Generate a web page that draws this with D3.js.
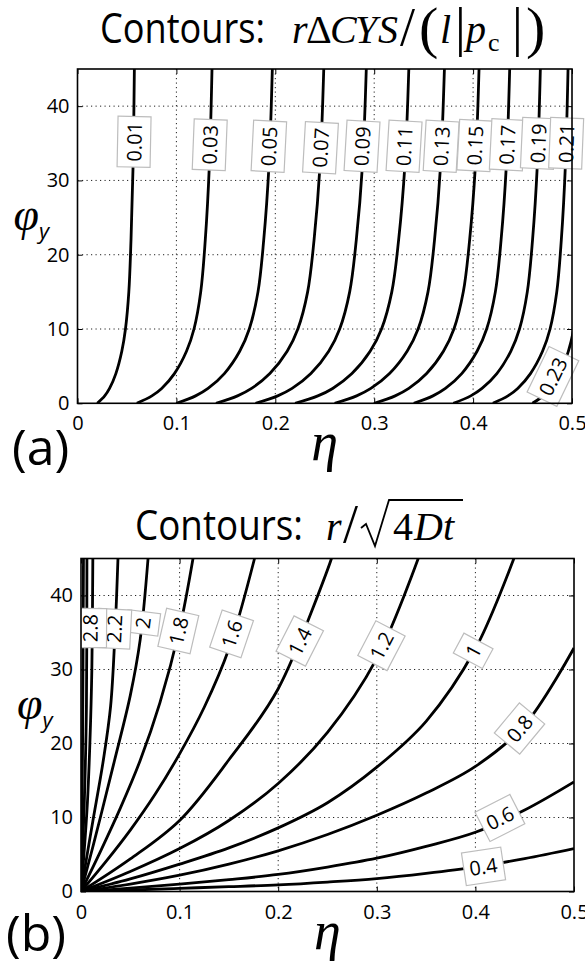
<!DOCTYPE html>
<html>
<head>
<meta charset="utf-8">
<script src="https://cdn.jsdelivr.net/npm/d3@7"></script>
<style>
  body { margin: 0; background: #fff; }
  svg { display: block; }
</style>
</head>
<body>
<svg id="fig" width="585" height="969"></svg>
<script>
// ---- shared axis ticks ----
const etaTicks = [0, 0.1, 0.2, 0.3, 0.4, 0.5];
const phiTicks = [0, 10, 20, 30, 40];

// ---- panel (a): contours of r*dCYS/(l|pc|) ----
const cysLevels = ["0.01", "0.03", "0.05", "0.07", "0.09", "0.11", "0.13", "0.15", "0.17", "0.19", "0.21", "0.23"];
const cysPhi = [0, 1, 2, 4, 7, 10, 15, 22, 32, 45];
const cysEta = [
  [0.020, 0.0275, 0.0324, 0.0388, 0.0448, 0.0485, 0.0519, 0.0541, 0.0562, 0.0575],
  [0.060, 0.0752, 0.0851, 0.0980, 0.1102, 0.1178, 0.1246, 0.1292, 0.1333, 0.1360],
  [0.100, 0.1194, 0.1320, 0.1485, 0.1640, 0.1737, 0.1825, 0.1883, 0.1936, 0.1970],
  [0.140, 0.1618, 0.1760, 0.1945, 0.2120, 0.2228, 0.2327, 0.2392, 0.2452, 0.2490],
  [0.180, 0.2024, 0.2170, 0.2360, 0.2540, 0.2651, 0.2752, 0.2819, 0.2881, 0.2920],
  [0.220, 0.2430, 0.2580, 0.2775, 0.2959, 0.3074, 0.3178, 0.3247, 0.3310, 0.3350],
  [0.260, 0.2822, 0.2966, 0.3155, 0.3333, 0.3444, 0.3544, 0.3610, 0.3671, 0.3710],
  [0.300, 0.3212, 0.3350, 0.3530, 0.3700, 0.3806, 0.3901, 0.3965, 0.4023, 0.4060],
  [0.340, 0.3594, 0.3720, 0.3885, 0.4040, 0.4137, 0.4225, 0.4283, 0.4336, 0.4370],
  [0.380, 0.3976, 0.4090, 0.4240, 0.4381, 0.4469, 0.4548, 0.4601, 0.4649, 0.4680],
  [0.420, 0.4352, 0.4451, 0.4580, 0.4702, 0.4778, 0.4846, 0.4892, 0.4933, 0.4960],
  [0.460, 0.4710, 0.4782, 0.4875, 0.4963, 0.5018, 0.5068, 0.5100, 0.5130, 0.5150]
];
// where each level's inline label sits: [eta, phi]
const cysLabelAt = [
  [0.0575, 35.2], [0.1340, 34.8], [0.1938, 34.6], [0.2460, 34.4],
  [0.2880, 34.6], [0.3305, 34.6], [0.3680, 34.6], [0.4020, 34.7],
  [0.4347, 34.8], [0.4660, 35.0], [0.4944, 35.0], [0.4810, 3.6]
];

// ---- panel (b): contours of r/sqrt(4Dt) ----
const fanLevels = ["0.4", "0.6", "0.8", "1", "1.2", "1.4", "1.6", "1.8", "2", "2.2", "2.4", "2.6", "2.8"];
const fanCurves = [
  [[0, 0], [0.05, 0.2], [0.1, 0.43], [0.15, 0.65], [0.2, 0.9], [0.25, 1.28], [0.3, 1.75], [0.35, 2.45], [0.4, 3.3], [0.45, 4.45], [0.5, 5.8]],
  [[0, 0], [0.05, 0.45], [0.1, 1.0], [0.15, 1.6], [0.2, 2.3], [0.25, 3.3], [0.3, 4.5], [0.35, 6.1], [0.4, 8.0], [0.45, 11.0], [0.5, 14.8]],
  [[0, 0], [0.05, 1.0], [0.1, 2.2], [0.15, 3.7], [0.2, 5.5], [0.25, 7.7], [0.3, 10.3], [0.35, 13.3], [0.4, 16.9], [0.45, 22.5], [0.5, 32.9]],
  [[0, 0], [0.05, 1.7], [0.1, 3.7], [0.15, 5.9], [0.2, 8.6], [0.25, 12.0], [0.3, 16.8], [0.35, 23.0], [0.4, 32.8], [0.439, 45]],
  [[0, 0], [0.05, 2.7], [0.1, 5.8], [0.15, 9.6], [0.2, 14.6], [0.25, 21.5], [0.3, 31.5], [0.342, 45]],
  [[0, 0], [0.05, 4.4], [0.1, 9.6], [0.15, 17.8], [0.2, 27.4], [0.254, 45]],
  [[0, 0], [0.025, 4.0], [0.05, 8.3], [0.075, 13.1], [0.1, 18.6], [0.125, 24.9], [0.15, 32.8], [0.176, 45]],
  [[0, 0], [0.02, 5.5], [0.04, 11.3], [0.06, 17.7], [0.08, 25.5], [0.1, 35.5], [0.1136, 45]],
  [[0, 0], [0.01, 5.0], [0.02, 10.2], [0.034, 17.7], [0.05, 26.5], [0.06, 34.0], [0.068, 45]],
  [[0, 0], [0.006, 4.8], [0.012, 9.5], [0.0226, 17.7], [0.03, 25.0], [0.0345, 35.0], [0.0375, 45]],
  [[0, 0], [0.003, 5.0], [0.0065, 12.0], [0.009, 20.0], [0.011, 30.0], [0.012, 45]],
  [[0, 0], [0.0015, 5.0], [0.004, 15.0], [0.0055, 25.0], [0.006, 45]],
  [[0, 0], [0.0008, 8.0], [0.0016, 20.0], [0.0025, 45]]
];
const fanLabelAt = [
  [0.408, 3.35], [0.425, 9.9], [0.445, 22.0], [0.398, 32.5], [0.305, 33.2], [0.222, 33.8],
  [0.153, 34.8], [0.099, 35.2], [0.063, 36.3], [0.034, 35.5], null, null, [0.0095, 35.6]
];

// ---- drawing ----
const SANS = "'Open Sans', 'Noto Sans', sans-serif";
const SERIF = "'Liberation Serif', 'DejaVu Serif', serif";
const svg = d3.select("#fig");
const defs = svg.append("defs");

const lineGen = d3.line().curve(d3.curveCatmullRom.alpha(0.5));

function drawPanel(cfg) {
  const { id, left, right, top, bottom, curves, levels, labelAt, clipLabels } = cfg;
  const x = d3.scaleLinear().domain([0, 0.5]).range([left, right]);
  const y = d3.scaleLinear().domain([0, 45]).range([bottom, top]);
  const g = svg.append("g").attr("id", id);

  defs.append("clipPath").attr("id", id + "-clip")
    .append("rect").attr("x", left).attr("y", top)
    .attr("width", right - left).attr("height", bottom - top);

  // dotted grid
  const grid = g.append("g").attr("stroke", "#222").attr("stroke-width", 1)
    .attr("stroke-dasharray", "1.2,3.3");
  grid.selectAll("line.v").data(etaTicks.slice(1, -1)).join("line").attr("class", "v")
    .attr("x1", d => x(d)).attr("x2", d => x(d)).attr("y1", top).attr("y2", bottom);
  grid.selectAll("line.h").data(phiTicks.slice(1)).join("line").attr("class", "h")
    .attr("y1", d => y(d)).attr("y2", d => y(d)).attr("x1", left).attr("x2", right);

  // contour lines
  const lines = g.append("g").attr("clip-path", `url(#${id}-clip)`);
  lines.selectAll("path").data(curves).join("path")
    .attr("d", pts => lineGen(pts.map(p => [x(p[0]), y(p[1])])))
    .attr("fill", "none").attr("stroke", "#000").attr("stroke-width", 2.8)
    .attr("stroke-linejoin", "round");

  // inline labels, rotated along the local direction of the line
  const lab = g.append("g");
  if (clipLabels) lab.attr("clip-path", `url(#${id}-clip)`);
  curves.forEach((pts, i) => {
    const at = labelAt[i];
    if (!at) return;
    const px = x(at[0]), py = y(at[1]);
    const sp = pts.map(p => [x(p[0]), y(p[1])]);
    let k = 0, best = Infinity;
    sp.forEach((p, j) => {
      const dd = (p[0] - px) ** 2 + (p[1] - py) ** 2;
      if (dd < best) { best = dd; k = j; }
    });
    const a = sp[Math.max(0, k - 1)], b = sp[Math.min(sp.length - 1, k + 1)];
    let ang = Math.atan2(b[1] - a[1], b[0] - a[0]) * 180 / Math.PI;
    if (ang > 90) ang -= 180;
    if (ang < -90) ang += 180;
    const lg = lab.append("g").attr("transform", `translate(${px},${py}) rotate(${ang})`);
    const rect = lg.append("rect");
    const t = lg.append("text").attr("text-anchor", "middle").attr("dy", "0.36em")
      .style("font-family", SANS).style("font-size", "20px").text(levels[i]);
    const bb = t.node().getBBox();
    rect.attr("x", bb.x - 5.5).attr("y", bb.y - 3)
      .attr("width", bb.width + 11).attr("height", bb.height + 6)
      .attr("fill", "#fff").attr("stroke", "#bdbdbd").attr("stroke-width", 1.2);
  });

  // axes: ticks point inward on all four sides
  const fmt = d => String(d);
  const axB = g.append("g").attr("transform", `translate(0,${bottom})`)
    .call(d3.axisBottom(x).tickValues(etaTicks).tickSizeInner(-5).tickSizeOuter(0).tickPadding(13).tickFormat(fmt));
  const axL = g.append("g").attr("transform", `translate(${left},0)`)
    .call(d3.axisLeft(y).tickValues(phiTicks).tickSizeInner(-5).tickSizeOuter(0).tickPadding(8).tickFormat(fmt));
  const axT = g.append("g").attr("transform", `translate(0,${top})`)
    .call(d3.axisTop(x).tickValues(etaTicks).tickSizeInner(-5).tickSizeOuter(0).tickFormat(""));
  const axR = g.append("g").attr("transform", `translate(${right},0)`)
    .call(d3.axisRight(y).tickValues(phiTicks).tickSizeInner(-5).tickSizeOuter(0).tickFormat(""));
  [axB, axL, axT, axR].forEach(ax => {
    ax.select(".domain").remove();
    ax.selectAll("line").attr("stroke", "#000").attr("stroke-width", 1);
    ax.selectAll("text").style("font-family", SANS).style("font-size", "20px").attr("fill", "#000");
  });

  // frame
  g.append("rect").attr("x", left).attr("y", top).attr("width", right - left).attr("height", bottom - top)
    .attr("fill", "none").attr("stroke", "#000").attr("stroke-width", 1.6);

  // axis names
  const yl = g.append("text").attr("x", left - 64).attr("y", bottom - 173);
  yl.append("tspan").style("font-family", SERIF).style("font-style", "italic").style("font-size", "46px").text("φ");
  yl.append("tspan").attr("dy", 9).style("font-family", SANS).style("font-style", "italic").style("font-size", "22px").text("y");
  g.append("text").attr("x", (left + right) / 2).attr("y", bottom + 57).attr("text-anchor", "middle")
    .style("font-family", SERIF).style("font-style", "italic").style("font-size", "54px").text("η");
  return g;
}

drawPanel({ id: "pa", left: 77.5, right: 572, top: 69, bottom: 403.3,
  curves: cysEta.map(row => row.map((e, j) => [e, cysPhi[j]])),
  levels: cysLevels, labelAt: cysLabelAt, clipLabels: false });

drawPanel({ id: "pb", left: 81, right: 574, top: 558.5, bottom: 891.5,
  curves: fanCurves, levels: fanLevels, labelAt: fanLabelAt, clipLabels: true });

// panel tags
svg.append("text").attr("x", 12).attr("y", 465).style("font-family", SANS).style("font-size", "50px").text("(a)");
svg.append("text").attr("x", 6).attr("y", 951).style("font-family", SANS).style("font-size", "50px").text("(b)");

// title of panel (a)
svg.append("text").attr("x", 100).attr("y", 43).attr("textLength", 165).attr("lengthAdjust", "spacingAndGlyphs")
  .style("font-family", SANS).style("font-size", "42px").text("Contours:");
const ta = [
  ["r", 292, 40, "italic", 0], ["Δ", 306, 40, "normal", 0], ["C", 330, 40, "italic", 0],
  ["Y", 355, 40, "italic", 0], ["S", 378, 40, "italic", 0], ["/", 400, 54, "normal", 2],
  ["(", 419, 58, "normal", 4], ["l", 440, 40, "italic", 0], ["|", 455, 54, "normal", 2],
  ["p", 466, 40, "italic", 0], ["c", 488, 26, "normal", 8], ["|", 512, 54, "normal", 2],
  [")", 526, 58, "normal", 4]
];
ta.forEach(([s, px, fs, st, dy]) => {
  svg.append("text").attr("x", px).attr("y", 43 + dy)
    .style("font-family", SERIF).style("font-style", st).style("font-size", fs + "px").text(s);
});

// title of panel (b)
svg.append("text").attr("x", 135).attr("y", 540).attr("textLength", 168).attr("lengthAdjust", "spacingAndGlyphs")
  .style("font-family", SANS).style("font-size", "42px").text("Contours:");
svg.append("text").attr("x", 326).attr("y", 540).style("font-family", SERIF).style("font-style", "italic")
  .style("font-size", "40px").text("r");
svg.append("text").attr("x", 343).attr("y", 542).style("font-family", SERIF)
  .style("font-size", "54px").text("/");
svg.append("path").attr("d", "M361,528 L366,524 L375,546 L389,500 L463,500")
  .attr("fill", "none").attr("stroke", "#000").attr("stroke-width", 1.8).attr("stroke-linejoin", "miter");
svg.append("text").attr("x", 393).attr("y", 540).style("font-family", SERIF).style("font-size", "40px")
  .text("4");
svg.append("text").attr("x", 414).attr("y", 540).style("font-family", SERIF).style("font-style", "italic")
  .style("font-size", "40px").text("Dt");
</script>
</body>
</html>
